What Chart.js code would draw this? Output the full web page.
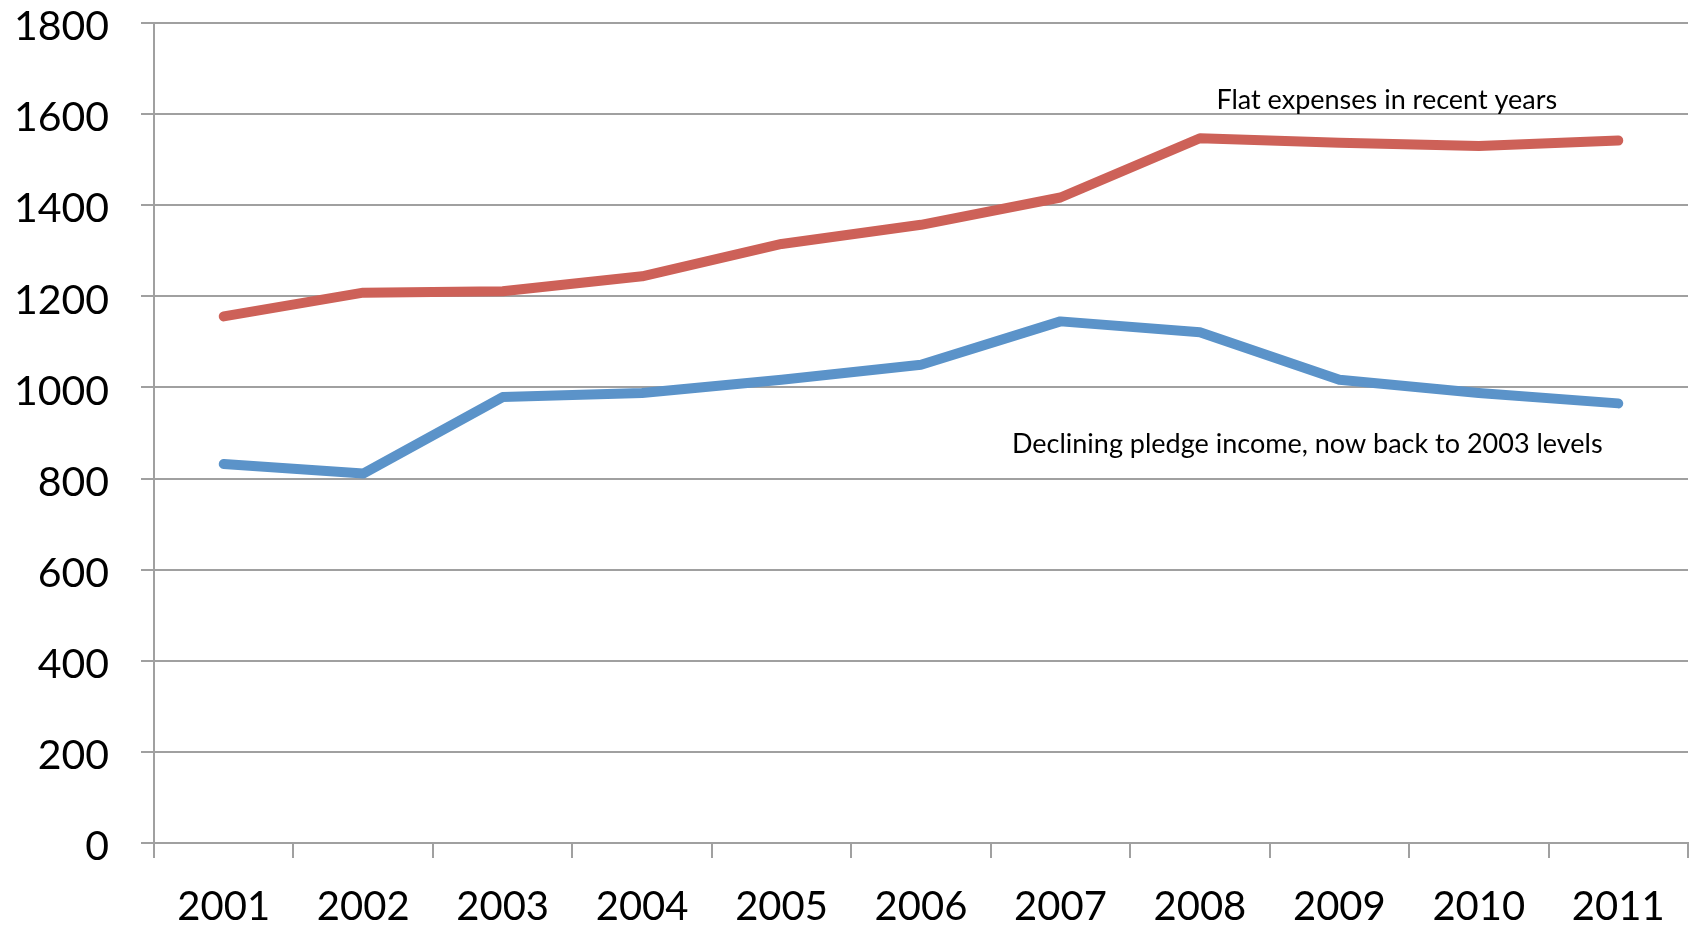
<!DOCTYPE html>
<html lang="en">
<head>
<meta charset="UTF-8">
<title>Expenses vs pledge income</title>
<script src="https://cdn.jsdelivr.net/npm/chart.js"></script>
<style>
    html, body { margin: 0; padding: 0; background: #fff; overflow: hidden; }
</style>
</head>
<body>
<canvas id="chart" width="1690" height="928"></canvas>
<script>
    // data
    const years = ["2001", "2002", "2003", "2004", "2005", "2006", "2007", "2008", "2009", "2010", "2011"];
    const expenses = [1156, 1208, 1211, 1244, 1315, 1357, 1417, 1547, 1537, 1530, 1542];
    const pledgeIncome = [832, 811, 979, 988, 1017, 1050, 1145, 1121, 1017, 988, 965];
    const yTicks = [0, 200, 400, 600, 800, 1000, 1200, 1400, 1600, 1800];
    const notes = [
        { text: "Flat expenses in recent years", x: 8.34, y: 1630 },
        { text: "Declining pledge income, now back to 2003 levels", x: 7.77, y: 875 }
    ];

    const FONT = "Lato, 'Open Sans', sans-serif";

    // annotation text
    const notesPlugin = {
        id: "notes",
        afterDatasetsDraw(chart) {
            const { ctx, scales: { x, y } } = chart;
            ctx.save();
            ctx.font = "27px " + FONT;
            ctx.fillStyle = "#000";
            ctx.textAlign = "center";
            ctx.textBaseline = "middle";
            notes.forEach(n => {
                ctx.fillText(n.text, x.getPixelForValue(n.x), y.getPixelForValue(n.y));
            });
            ctx.restore();
        }
    };

    new Chart(document.getElementById("chart"), {
        type: "line",
        data: {
            labels: years,
            datasets: [
                {
                    label: "Expenses",
                    data: expenses,
                    borderColor: "#cd6158",
                    borderWidth: 10,
                    borderCapStyle: "round",
                    borderJoinStyle: "round",
                    pointRadius: 0,
                    tension: 0
                },
                {
                    label: "Pledge income",
                    data: pledgeIncome,
                    borderColor: "#5b93c9",
                    borderWidth: 10,
                    borderCapStyle: "round",
                    borderJoinStyle: "round",
                    pointRadius: 0,
                    tension: 0
                }
            ]
        },
        options: {
            responsive: false,
            animation: false,
            devicePixelRatio: 1,
            layout: { padding: { top: 23, right: 2, left: 0, bottom: 0 } },
            plugins: {
                legend: { display: false },
                tooltip: { enabled: false }
            },
            scales: {
                x: {
                    offset: true,
                    grid: {
                        offset: true,
                        drawOnChartArea: false,
                        drawTicks: true,
                        tickLength: 15,
                        color: "#a0a0a0",
                        lineWidth: 2
                    },
                    border: { color: "#a0a0a0", width: 2 },
                    ticks: {
                        color: "#000",
                        font: { family: FONT, size: 40 },
                        padding: 25,
                        maxRotation: 0
                    },
                    afterFit(scale) { scale.height = 85; }
                },
                y: {
                    min: 0,
                    max: 1800,
                    afterBuildTicks(scale) {
                        scale.ticks = yTicks.map(v => ({ value: v }));
                    },
                    grid: {
                        color: "#a0a0a0",
                        lineWidth: 2,
                        tickLength: 13
                    },
                    border: { color: "#a0a0a0", width: 2 },
                    ticks: {
                        color: "#000",
                        font: { family: FONT, size: 41 },
                        padding: 32,
                        labelOffset: 4,
                        callback: v => String(v)
                    },
                    afterFit(scale) {
                        scale.width = 154;
                        scale.paddingTop = 0;
                        scale.paddingBottom = 0;
                    }
                }
            }
        },
        plugins: [notesPlugin]
    });
</script>
</body>
</html>
